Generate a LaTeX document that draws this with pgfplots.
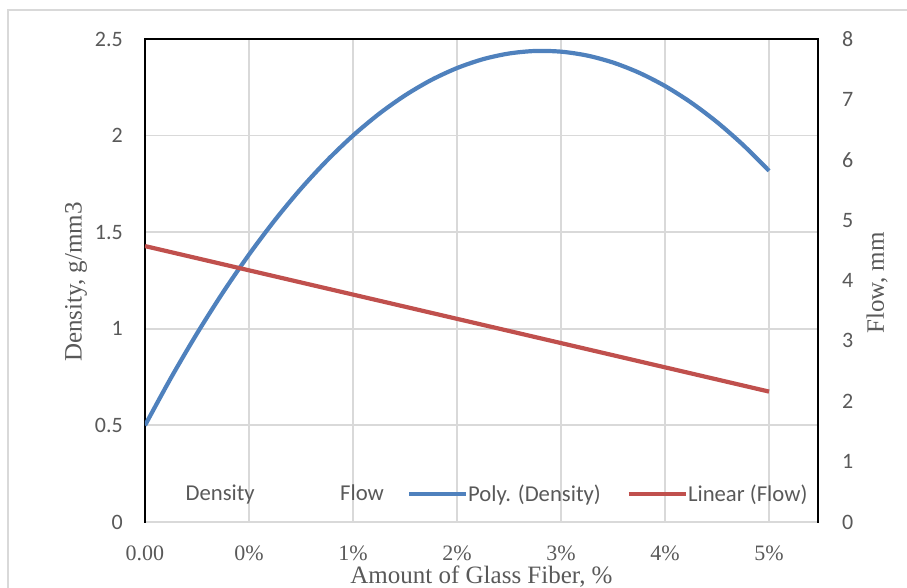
\documentclass[border=0pt]{standalone}
\usepackage{pgfplots}
\pgfplotsset{compat=1.18}
\usepackage{fontspec}
\setmainfont{Liberation Serif}
\newfontfamily\calfont{Carlito}
\definecolor{txt}{HTML}{595959}
\definecolor{gridc}{HTML}{D9D9D9}
\definecolor{blueline}{HTML}{4F81BD}
\definecolor{redline}{HTML}{C0504D}

\begin{document}
\begin{tikzpicture}
\useasboundingbox (-145pt,-66pt) rectangle (762pt,522pt);
\begin{axis}[
  scale only axis, width=673pt, height=483pt,
  xmin=0, xmax=6.471, ymin=0, ymax=2.5,
  axis x line*=bottom, axis y line*=left,
  x axis line style={draw=gridc, line width=1.8pt, -},
  y axis line style={draw=black, line width=1.8pt, -, line cap=rect},
  xtick={0,1,2,3,4,5,6},
  xticklabels={0.00,0\%,1\%,2\%,3\%,4\%,5\%},
  ytick={0,0.5,1,1.5,2,2.5},
  grid=major, grid style={draw=gridc, line width=1.8pt},
  major tick length=0pt,
  /pgf/number format/assume math mode=true,
  xticklabel style={font=\fontsize{22}{26}\selectfont, text=txt, anchor=base, yshift=-38.5pt, inner sep=0pt},
  yticklabel style={font=\calfont\fontsize{22}{26}\selectfont, text=txt, anchor=east, xshift=-22pt, inner sep=0pt},
  xlabel={Amount of Glass Fiber, \%},
  ylabel={Density, g/mm3},
  every axis x label/.style={at={(axis description cs:0.5,-0.1273)}, anchor=base, font=\fontsize{25}{30}\selectfont, text=txt},
  every axis y label/.style={at={(axis description cs:-0.1025,0.497)}, anchor=center, rotate=90, font=\fontsize{25}{30}\selectfont, text=txt},
]
\addplot[blueline, line width=4.2pt, smooth, forget plot] coordinates {
  (0,0.5000) (0.25,0.7463) (0.5,0.9758) (0.75,1.1884) (1,1.3842)
  (1.25,1.5633) (1.5,1.7256) (1.75,1.8712) (2,2.0001) (2.25,2.1124)
  (2.5,2.2080) (2.75,2.2871) (3,2.3495) (3.25,2.3955) (3.5,2.4249)
  (3.75,2.4379) (4,2.4344) (4.25,2.4145) (4.5,2.3782) (4.75,2.3255)
  (5,2.2566) (5.25,2.1713) (5.5,2.0697) (5.75,1.9519) (6,1.8179)
};
\end{axis}
\begin{axis}[
  scale only axis, width=673pt, height=483pt,
  xmin=0, xmax=6.471, ymin=0, ymax=8,
  axis x line*=top, axis y line*=right,
  axis line style={draw=black, line width=1.8pt, -, line cap=rect},
  xtick=\empty,
  ytick={0,1,2,3,4,5,6,7,8},
  major tick length=0pt,
  /pgf/number format/assume math mode=true,
  yticklabel style={font=\calfont\fontsize{22}{26}\selectfont, text=txt, anchor=west, xshift=24pt, inner sep=0pt},
  ylabel={Flow, mm},
  every axis y label/.style={at={(axis description cs:1.0877,0.495)}, anchor=center, rotate=90, font=\fontsize{25}{30}\selectfont, text=txt},
  legend columns=4,
  legend image code/.code={\path (0pt,0pt) -- (57pt,0pt); \draw[#1] (0pt,0pt) -- (52pt,0pt);},
  legend style={at={(axis description cs:-0.02526,0.0585)}, anchor=west, draw=none, fill=none,
    inner sep=0pt, column sep=0pt, row sep=0pt,
    nodes={inner sep=0pt, font=\calfont\fontsize{22.7}{27}\selectfont, text=txt},
    cells={anchor=west}},
]
\addplot[redline, line width=4.2pt, forget plot] coordinates {(0,4.57) (6,2.16)};
\addlegendimage{draw opacity=0, opacity=0}
\addlegendentry{Density\hspace*{28pt}}
\addlegendimage{draw opacity=0, opacity=0}
\addlegendentry{Flow\hspace*{23pt}}
\addlegendimage{blueline, line width=4.2pt}
\addlegendentry{Poly. (Density)\hspace*{26pt}}
\addlegendimage{redline, line width=4.2pt}
\addlegendentry{Linear (Flow)}
\end{axis}
\draw[gridc, line width=1.5pt] (-137pt,-70pt) -- (-137pt,512pt) -- (770pt,512pt);
\end{tikzpicture}
\end{document}
